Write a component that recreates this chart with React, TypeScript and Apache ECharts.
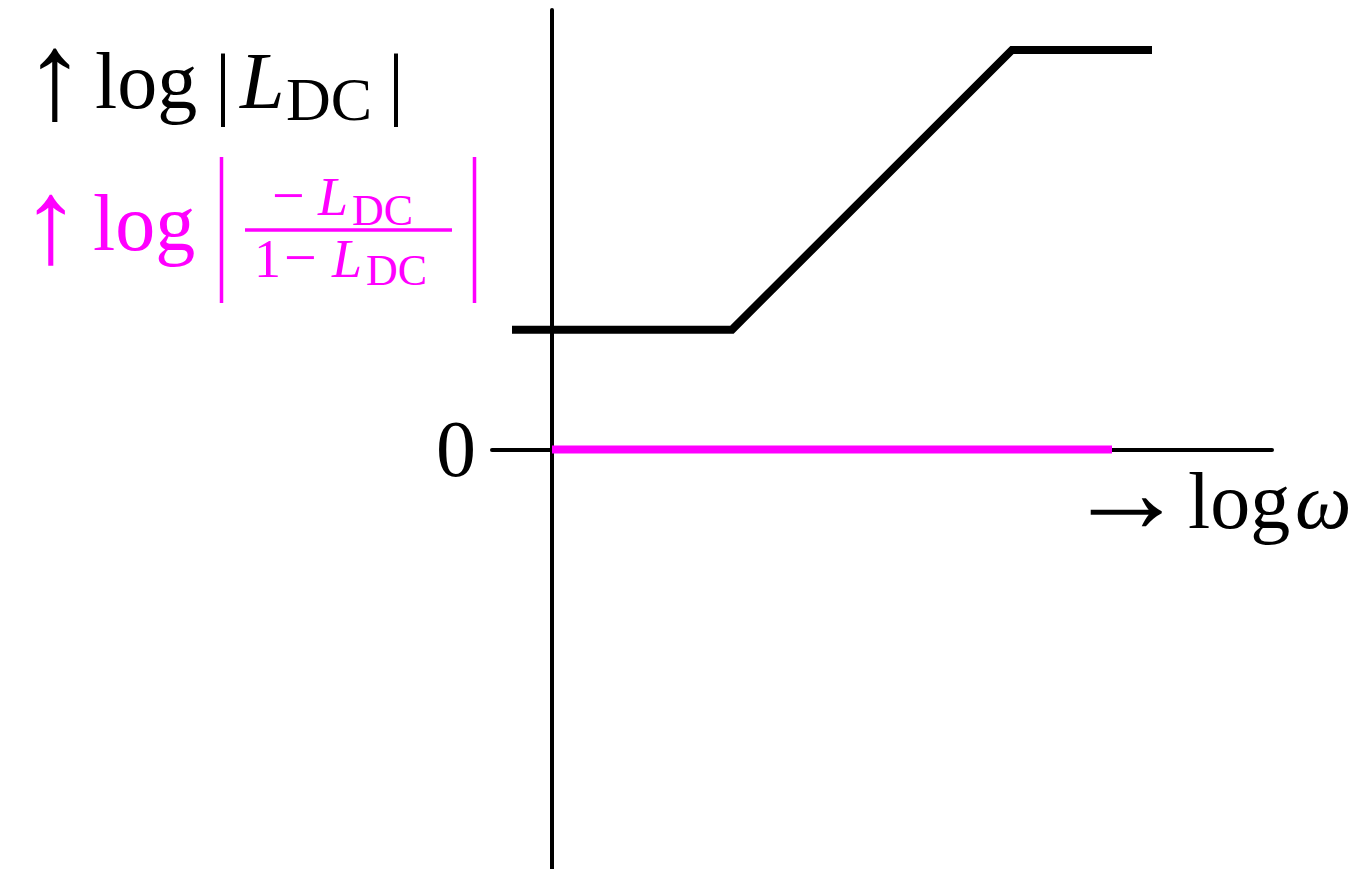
import React, { useEffect, useRef } from "react";
import * as echarts from "echarts";

// Asymptotic magnitude plot: open-loop |L_DC| (black) and the closed-loop ratio (magenta)
const loopGainW = [-2, 9, 23, 30];
const loopGainMag = [6, 6, 20, 20];
const closedLoopW = [0, 28];
const closedLoopMag = [0, 0];
const xRange = [-3, 36];
const yRange = [-21, 22];
const yTickLabels = ["0"];

const MAGENTA = "#ff00ff";
const SERIF = '"Liberation Serif", "DejaVu Serif", serif';
// offset from the middle of the em box to the alphabetic baseline
const K = 0.34;

type Piece = {
  text: string;
  left: number;
  baseline: number;
  size: number;
  color: string;
  italic?: boolean;
};

function textEl(p: Piece) {
  return {
    type: "text",
    x: p.left,
    y: p.baseline - K * p.size,
    silent: true,
    style: {
      text: p.text,
      fill: p.color,
      fontSize: p.size,
      fontFamily: SERIF,
      fontStyle: p.italic ? "italic" : "normal",
      align: "left",
      textAlign: "left",
      verticalAlign: "middle",
      textVerticalAlign: "middle",
    },
  };
}

function lineEl(x1: number, y1: number, x2: number, y2: number, color: string, w: number) {
  return {
    type: "line",
    silent: true,
    shape: { x1, y1, x2, y2 },
    style: { stroke: color, lineWidth: w },
  };
}

export default function App() {
  const ref = useRef<HTMLDivElement>(null);

  useEffect(() => {
    if (!ref.current) return;
    const chart = echarts.init(ref.current, null, { renderer: "svg" });

    const pieces: Piece[] = [
      // ↑ log |L_DC|
      { text: "↑", left: 24, baseline: 119, size: 124, color: "#000" },
      { text: "log", left: 95, baseline: 108, size: 80, color: "#000" },
      { text: "|", left: 215, baseline: 110, size: 80, color: "#000" },
      { text: "L", left: 240, baseline: 108, size: 80, color: "#000", italic: true },
      { text: "DC", left: 286, baseline: 120, size: 62, color: "#000" },
      { text: "|", left: 388, baseline: 110, size: 80, color: "#000" },
      // ↑ log | -L_DC / (1 - L_DC) |
      { text: "↑", left: 21, baseline: 262, size: 120, color: MAGENTA },
      { text: "log", left: 93, baseline: 250, size: 80, color: MAGENTA },
      { text: "−", left: 272, baseline: 215, size: 58, color: MAGENTA },
      { text: "L", left: 318, baseline: 215, size: 54, color: MAGENTA, italic: true },
      { text: "DC", left: 352, baseline: 225, size: 44, color: MAGENTA },
      { text: "1", left: 254, baseline: 277, size: 54, color: MAGENTA },
      { text: "−", left: 284, baseline: 277, size: 58, color: MAGENTA },
      { text: "L", left: 332, baseline: 277, size: 54, color: MAGENTA, italic: true },
      { text: "DC", left: 366, baseline: 285, size: 44, color: MAGENTA },
      // → log ω
      { text: "→", left: 1066, baseline: 532, size: 120, color: "#000" },
      { text: "log", left: 1188, baseline: 528, size: 80, color: "#000" },
      { text: "ω", left: 1295, baseline: 528, size: 80, color: "#000", italic: true },
    ];

    const graphic = [
      ...pieces.map(textEl),
      lineEl(221.5, 157, 221.5, 303, MAGENTA, 3.5),
      lineEl(245, 230, 452, 230, MAGENTA, 3.5),
      lineEl(474.5, 157, 474.5, 303, MAGENTA, 3.5),
    ];

    chart.setOption({
      animation: false,
      backgroundColor: "#ffffff",
      grid: { left: 492, top: 10, width: 780, height: 860, containLabel: false },
      xAxis: {
        type: "value",
        min: xRange[0],
        max: xRange[1],
        axisLine: { show: true, onZero: true, lineStyle: { color: "#000", width: 4 } },
        axisTick: { show: false },
        axisLabel: { show: false },
        splitLine: { show: false },
      },
      yAxis: {
        type: "value",
        min: yRange[0],
        max: yRange[1],
        interval: 21,
        axisLine: { show: true, onZero: true, lineStyle: { color: "#000", width: 4 } },
        axisTick: { show: false },
        axisLabel: {
          show: true,
          margin: 16,
          color: "#000",
          fontSize: 80,
          fontFamily: SERIF,
          padding: [0, 0, 8, 0],
          formatter: (v: number) => (v === 0 ? yTickLabels[0] : ""),
        },
        splitLine: { show: false },
      },
      series: [
        {
          type: "line",
          data: loopGainW.map((w, i) => [w, loopGainMag[i]]),
          symbol: "none",
          lineStyle: { color: "#000", width: 8, join: "miter", cap: "butt" },
          z: 3,
        },
        {
          type: "line",
          data: closedLoopW.map((w, i) => [w, closedLoopMag[i]]),
          symbol: "none",
          lineStyle: { color: MAGENTA, width: 8, cap: "butt" },
          z: 2,
        },
      ],
      graphic,
    });

    return () => chart.dispose();
  }, []);

  return (
    <div
      ref={ref}
      style={{ position: "absolute", left: 0, top: 0, width: 1369, height: 869 }}
    />
  );
}
